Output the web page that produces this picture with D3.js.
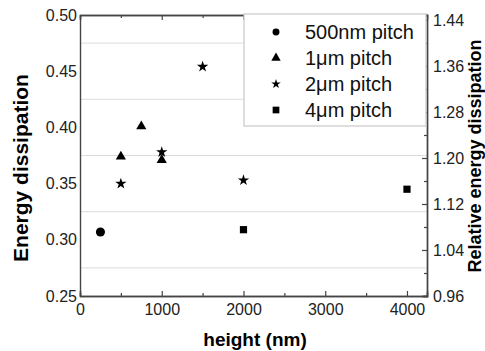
<!DOCTYPE html>
<html>
<head>
<meta charset="utf-8">
<script src="https://d3js.org/d3.v7.min.js"></script>
<style>
  body { margin: 0; background: #fff; }
  text { font-family: Arial, "Liberation Sans", sans-serif; }
</style>
</head>
<body>
<div id="chart"></div>
<script>
// data
let seriesNames = ["500nm pitch", "1\u03bcm pitch", "2\u03bcm pitch", "4\u03bcm pitch"];
let seriesShapes = [d3.symbolCircle, d3.symbolTriangle, d3.symbolStar, d3.symbolSquare];
let pitch500 = [[250, 0.307]];
let pitch1 = [[500, 0.374], [750, 0.401], [1000, 0.371]];
let pitch2 = [[500, 0.350], [1000, 0.378], [1500, 0.454], [2000, 0.353]];
let pitch4 = [[2000, 0.309], [4000, 0.345]];
let allSeries = [pitch500, pitch1, pitch2, pitch4];

let xTicks = [0, 1000, 2000, 3000, 4000];
let xMinor = [500, 1500, 2500, 3500];
let yTicks = [0.25, 0.30, 0.35, 0.40, 0.45, 0.50];
let yGrid = [0.275, 0.325, 0.375, 0.425, 0.475];
let yRightTicks = [0.96, 1.04, 1.12, 1.20, 1.28, 1.36, 1.44];
let yRightMinor = [1.00, 1.08, 1.16, 1.24, 1.32, 1.40];

let svgWidth = 485;
let svgHeight = 351;
let margin = { top: 15, right: 58, bottom: 55, left: 80 };
let width = svgWidth - margin.left - margin.right;
let height = svgHeight - margin.top - margin.bottom;

let svg = d3.select("#chart").append("svg")
  .attr("width", svgWidth)
  .attr("height", svgHeight);

let g = svg.append("g")
  .attr("transform", `translate(${margin.left}, ${margin.top})`);

let x = d3.scaleLinear().domain([0, 4245]).range([0, width]);
let y = d3.scaleLinear().domain([0.25, 0.50]).range([height, 0]);
// right axis: 0.08 per ~46px, starting at 0.96
let y2 = d3.scaleLinear().domain([0.96, 0.96 + 0.08 * height / 46]).range([height, 0]);

// gridlines at the minor y positions
g.append("g").selectAll("line")
  .data(yGrid)
  .enter().append("line")
  .attr("x1", 0).attr("x2", width)
  .attr("y1", d => y(d)).attr("y2", d => y(d))
  .attr("stroke", "#dcdcdc").attr("stroke-width", 1);

function styleAxis(sel) {
  sel.select(".domain").attr("stroke", "#444").attr("stroke-width", 1.4);
  sel.selectAll(".tick line").attr("stroke", "#444").attr("stroke-width", 1.2);
  sel.selectAll(".tick text").attr("font-size", 16).attr("fill", "#222");
}

// bottom axis
g.append("g").attr("transform", `translate(0, ${height})`)
  .call(d3.axisBottom(x).tickValues(xTicks).tickSize(-5).tickPadding(8).tickFormat(d3.format("d")))
  .call(styleAxis);
g.append("g").attr("transform", `translate(0, ${height})`)
  .call(d3.axisBottom(x).tickValues(xMinor).tickSize(-3).tickFormat(""))
  .call(styleAxis);

// top axis
g.append("g").call(d3.axisTop(x).tickValues(xTicks).tickSize(-5).tickFormat("")).call(styleAxis);
g.append("g").call(d3.axisTop(x).tickValues(xMinor).tickSize(-3).tickFormat("")).call(styleAxis);

// left axis
g.append("g")
  .call(d3.axisLeft(y).tickValues(yTicks).tickSize(0).tickPadding(3).tickFormat(d3.format(".2f")))
  .call(styleAxis);

// right axis
g.append("g").attr("transform", `translate(${width}, 0)`)
  .call(d3.axisRight(y2).tickValues(yRightTicks).tickSize(-5).tickPadding(6).tickFormat(d3.format(".2f")))
  .call(styleAxis);
g.append("g").attr("transform", `translate(${width}, 0)`)
  .call(d3.axisRight(y2).tickValues(yRightMinor).tickSize(-3).tickFormat(""))
  .call(styleAxis);

// points
let pointSizes = [65, 45, 40, 52];
allSeries.forEach((pts, i) => {
  g.append("g").selectAll("path")
    .data(pts)
    .enter().append("path")
    .attr("d", d3.symbol().type(seriesShapes[i]).size(pointSizes[i]))
    .attr("transform", d => `translate(${x(d[0])}, ${y(d[1])})`)
    .attr("fill", "#000");
});

// legend
let legend = g.append("g").attr("transform", "translate(164, -1)");
legend.append("rect")
  .attr("width", 182).attr("height", 112)
  .attr("fill", "#fff").attr("stroke", "#c8c8c8").attr("stroke-width", 1.2);
let legendSizes = [38, 38, 28, 45];
seriesNames.forEach((name, i) => {
  let ly = 18 + i * 26;
  legend.append("path")
    .attr("d", d3.symbol().type(seriesShapes[i]).size(legendSizes[i]))
    .attr("transform", `translate(32, ${ly})`)
    .attr("fill", "#000");
  legend.append("text")
    .attr("x", 61).attr("y", ly + 7)
    .attr("font-size", 20).attr("fill", "#111")
    .text(name);
});

// axis titles
svg.append("text")
  .attr("transform", `translate(28, 168) rotate(-90)`)
  .attr("text-anchor", "middle")
  .attr("font-size", 21).attr("font-weight", "bold")
  .text("Energy dissipation");

svg.append("text")
  .attr("x", 255).attr("y", 346)
  .attr("text-anchor", "middle")
  .attr("font-size", 19).attr("font-weight", "bold")
  .text("height (nm)");

svg.append("text")
  .attr("transform", `translate(481, 156) rotate(-90)`)
  .attr("text-anchor", "middle")
  .attr("font-size", 18).attr("font-weight", "bold")
  .text("Relative energy dissipation");
</script>
</body>
</html>
